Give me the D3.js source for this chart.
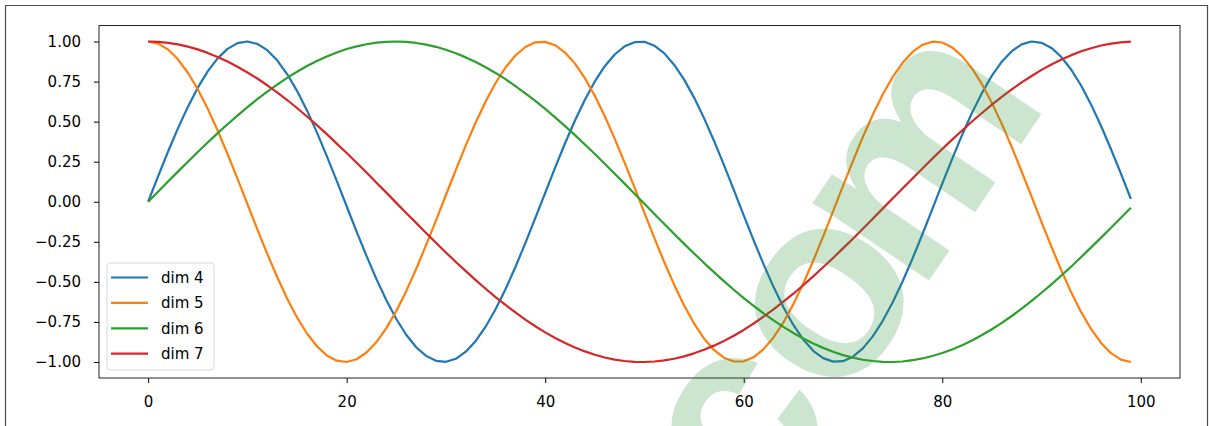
<!DOCTYPE html>
<html>
<head>
<meta charset="utf-8">
<script src="https://cdn.jsdelivr.net/npm/d3@7"></script>
<style>
  html, body { margin: 0; padding: 0; background: #fff; }
  svg { display: block; }
  .tick text { font-family: "DejaVu Sans", sans-serif; font-size: 15px; fill: #000; }
</style>
</head>
<body>
<svg id="chart" width="1209" height="426"></svg>
<script>
// Positions along the sequence
const positions = d3.range(0, 100);

// Encoding values for columns 4..7
const dim4 = [0,.158,.312,.458,.592,.712,.814,.895,.954,.990,1.000,.985,.946,.883,.797,.692,.570,.433,.285,.130,
  -.028,-.186,-.338,-.483,-.615,-.732,-.830,-.908,-.962,-.993,-.999,-.980,-.936,-.869,-.780,-.671,-.546,-.407,-.258,-.102,
  .056,.213,.365,.507,.637,.751,.846,.919,.970,.996,.998,.974,.926,.854,.762,.650,.522,.381,.230,.074,
  -.085,-.241,-.391,-.531,-.658,-.769,-.860,-.930,-.976,-.998,-.995,-.967,-.915,-.840,-.743,-.629,-.498,-.355,-.203,-.046,
  .113,.268,.417,.555,.679,.787,.874,.940,.982,1.000,.992,.960,.903,.824,.724,.606,.473,.328,.175,.017];

const dim5 = [1,.987,.950,.889,.805,.702,.581,.445,.298,.144,-.014,-.172,-.325,-.470,-.604,-.722,-.822,-.902,-.959,-.992,
  -1.000,-.983,-.941,-.876,-.789,-.682,-.558,-.420,-.271,-.116,.042,.199,.352,.495,.626,.741,.838,.913,.966,.995,
  .998,.977,.931,.862,.771,.661,.534,.394,.244,.088,-.070,-.227,-.378,-.519,-.648,-.760,-.853,-.925,-.973,-.997,
  -.996,-.971,-.920,-.847,-.753,-.639,-.510,-.368,-.217,-.060,.099,.254,.404,.543,.669,.778,.867,.935,.979,.999,
  .994,.963,.909,.832,.734,.617,.486,.342,.189,.032,-.127,-.281,-.429,-.567,-.690,-.795,-.881,-.945,-.985,-1.000];

const dim6 = [0,.063,.126,.188,.250,.310,.370,.428,.484,.538,.590,.640,.687,.731,.773,.811,.847,.879,.907,.932,
  .953,.970,.983,.993,.998,1.000,.998,.991,.981,.967,.949,.927,.901,.872,.839,.804,.765,.722,.677,.629,
  .579,.527,.472,.416,.357,.298,.237,.175,.113,.050,-.013,-.076,-.139,-.201,-.263,-.323,-.382,-.439,-.495,-.549,
  -.601,-.650,-.697,-.740,-.781,-.819,-.853,-.885,-.912,-.936,-.957,-.973,-.986,-.994,-.999,-1.000,-.997,-.989,-.978,-.963,
  -.944,-.922,-.895,-.866,-.832,-.796,-.756,-.713,-.667,-.619,-.568,-.516,-.460,-.404,-.345,-.285,-.224,-.162,-.100,-.037];

const dim7 = [1,.998,.992,.982,.968,.951,.929,.904,.875,.843,.807,.769,.727,.682,.635,.585,.532,.478,.422,.363,
  .304,.243,.182,.119,.057,-.007,-.070,-.132,-.195,-.256,-.317,-.376,-.433,-.489,-.543,-.595,-.644,-.691,-.736,-.777,
  -.815,-.850,-.882,-.910,-.934,-.955,-.972,-.985,-.994,-.999,-1.000,-.997,-.990,-.980,-.965,-.946,-.924,-.898,-.869,-.836,
  -.800,-.760,-.717,-.672,-.624,-.574,-.521,-.466,-.409,-.351,-.291,-.231,-.169,-.106,-.043,.020,.083,.145,.208,.269,
  .329,.388,.445,.501,.554,.606,.655,.701,.745,.785,.823,.857,.888,.915,.939,.958,.975,.987,.995,.999];

const seriesNames = ["dim 4", "dim 5", "dim 6", "dim 7"];
const seriesValues = [dim4, dim5, dim6, dim7];
const seriesColors = ["#1f77b4", "#ff7f0e", "#2ca02c", "#d62728"];

const yTicks = [-1.00, -0.75, -0.50, -0.25, 0.00, 0.25, 0.50, 0.75, 1.00];
const xTicks = [0, 20, 40, 60, 80, 100];

const svg = d3.select("#chart");
const plot = { left: 99, right: 1180, top: 25.5, bottom: 378 };

// Figure frame
svg.append("path")
  .attr("d", "M5.5,430 V5.5 H1207.5 V430")
  .attr("fill", "none")
  .attr("stroke", "#4d4d4d")
  .attr("stroke-width", 1.2);

const x = d3.scaleLinear().domain([-4.95, 103.95]).range([plot.left, plot.right]);
const y = d3.scaleLinear().domain([-1.1, 1.1]).range([plot.bottom, plot.top]);

const fmt = v => d3.format(".2f")(v).replace("-", "\u2212");

const yAxis = svg.append("g")
  .attr("transform", `translate(${plot.left},0)`)
  .call(d3.axisLeft(y).tickValues(yTicks).tickFormat(fmt).tickSize(5).tickPadding(13));
const xAxis = svg.append("g")
  .attr("transform", `translate(0,${plot.bottom})`)
  .call(d3.axisBottom(x).tickValues(xTicks).tickFormat(d3.format("d")).tickSize(5).tickPadding(13));
[yAxis, xAxis].forEach(g => {
  g.select(".domain").remove();
  g.selectAll(".tick line").attr("stroke", "#000").attr("stroke-width", 1);
});

// Curves
const line = d3.line().x((d, i) => x(positions[i])).y(d => y(d));
seriesValues.forEach((vals, k) => {
  svg.append("path")
    .datum(vals)
    .attr("d", line)
    .attr("fill", "none")
    .attr("stroke", seriesColors[k])
    .attr("stroke-width", 2.2)
    .attr("stroke-linejoin", "round")
    .attr("stroke-linecap", "butt");
});

// Axes frame
svg.append("rect")
  .attr("x", plot.left).attr("y", plot.top)
  .attr("width", plot.right - plot.left).attr("height", plot.bottom - plot.top)
  .attr("fill", "none").attr("stroke", "#222").attr("stroke-width", 1);

// Legend
const legend = svg.append("g").attr("transform", "translate(107,263)");
legend.append("rect")
  .attr("x", 0).attr("y", 0).attr("width", 107).attr("height", 107)
  .attr("rx", 3).attr("fill", "#fff").attr("fill-opacity", 0.8)
  .attr("stroke", "#d9d9d9").attr("stroke-width", 1);
seriesNames.forEach((name, k) => {
  const cy = 14.5 + k * 25.4;
  legend.append("line")
    .attr("x1", 4).attr("x2", 41).attr("y1", cy).attr("y2", cy)
    .attr("stroke", seriesColors[k]).attr("stroke-width", 2.2);
  legend.append("text")
    .attr("x", 54).attr("y", cy + 5.3)
    .attr("font-family", "DejaVu Sans, sans-serif").attr("font-size", 15)
    .attr("fill", "#000")
    .text(name);
});

// Site mark, clipped to the figure
svg.append("clipPath").attr("id", "fig-clip")
  .append("rect").attr("x", 0).attr("y", 0).attr("width", 1209).attr("height", 426);
const mark = svg.append("g")
  .attr("clip-path", "url(#fig-clip)")
  .append("g")
  .attr("transform", "translate(830,304) rotate(-56)")
  .append("text")
  .attr("x", -228).attr("y", 69)
  .attr("font-family", "Liberation Sans, Arial, sans-serif")
  .attr("font-weight", "bold")
  .attr("font-size", 265)
  .attr("fill", "rgb(46,150,60)")
  .attr("fill-opacity", 0.25);
mark.append("tspan").text("co");
mark.append("tspan").attr("dx", -25).text("m");
</script>
</body>
</html>
